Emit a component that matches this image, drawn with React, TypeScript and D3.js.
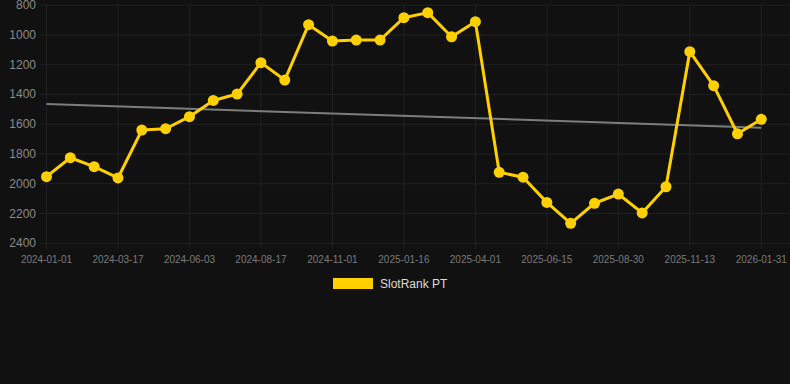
import React from "react";
import * as d3 from "d3";

const dates: string[] = [
  "2024-01-01", "2024-01-26", "2024-02-20", "2024-03-17", "2024-04-12", "2024-05-08",
  "2024-06-03", "2024-06-28", "2024-07-23", "2024-08-17", "2024-09-11", "2024-10-07",
  "2024-11-01", "2024-11-26", "2024-12-21", "2025-01-16", "2025-02-10", "2025-03-07",
  "2025-04-01", "2025-04-26", "2025-05-21", "2025-06-15", "2025-07-10", "2025-08-05",
  "2025-08-30", "2025-09-24", "2025-10-19", "2025-11-13", "2025-12-09", "2026-01-05",
  "2026-01-31",
];

const rankValues: number[] = [
  1952, 1825, 1885, 1961, 1639, 1630, 1549, 1440, 1397, 1186, 1303, 931, 1041, 1034, 1034,
  884, 850, 1012, 911, 1923, 1956, 2125, 2266, 2131, 2069, 2196, 2020, 1112, 1341, 1664, 1567,
];

const trendValues: number[] = [1464, 1623];

const yTicks: number[] = [800, 1000, 1200, 1400, 1600, 1800, 2000, 2200, 2400];

const seriesName = "SlotRank PT";

export default function App() {
  const W = 790;
  const H = 384;
  const x = d3.scalePoint<string>().domain(dates).range([46.5, 761.3]);
  const y = d3.scaleLinear().domain([800, 2400]).range([5.2, 243.3]);
  const tickDates = dates.filter((_, i) => i % 3 === 0);

  const line = d3
    .line<number>()
    .x((_, i) => x(dates[i]) as number)
    .y((d) => y(d));

  const gold = "#FFD000";
  const grid = "#212121";
  const font = "Arial, 'Liberation Sans', Helvetica, sans-serif";

  return (
    <div style={{ position: "fixed", left: 0, top: 0 }}>
      <svg width={W} height={H} style={{ display: "block" }}>
        <rect x={0} y={0} width={W} height={H} fill="#111111" />
        {yTicks.map((t) => (
          <line key={"h" + t} x1={40} x2={790} y1={y(t)} y2={y(t)} stroke={grid} strokeWidth={1} />
        ))}
        {tickDates.map((d) => (
          <line key={"v" + d} x1={x(d)} x2={x(d)} y1={y(800)} y2={249} stroke={grid} strokeWidth={1} />
        ))}
        {yTicks.map((t) => (
          <text
            key={"yl" + t}
            x={36}
            y={y(t)}
            textAnchor="end"
            dominantBaseline="central"
            fill="#8a8a8a"
            fontSize={12}
            fontFamily={font}
          >
            {t}
          </text>
        ))}
        {tickDates.map((d) => (
          <text
            key={"xl" + d}
            x={x(d)}
            y={259}
            textAnchor="middle"
            dominantBaseline="central"
            fill="#7a7a7a"
            fontSize={10}
            fontFamily={font}
          >
            {d}
          </text>
        ))}
        <line
          x1={x(dates[0])}
          x2={x(dates[dates.length - 1])}
          y1={y(trendValues[0])}
          y2={y(trendValues[1])}
          stroke="#7d7d7d"
          strokeWidth={2}
        />
        <path d={line(rankValues) || ""} fill="none" stroke={gold} strokeWidth={3} strokeLinejoin="round" />
        {rankValues.map((v, i) => (
          <circle key={"p" + i} cx={x(dates[i])} cy={y(v)} r={5.5} fill={gold} />
        ))}
        <rect x={333} y={278} width={40} height={11} fill={gold} />
        <text x={380} y={284} dominantBaseline="central" fill="#dddddd" fontSize={12} fontFamily={font}>
          {seriesName}
        </text>
      </svg>
    </div>
  );
}
